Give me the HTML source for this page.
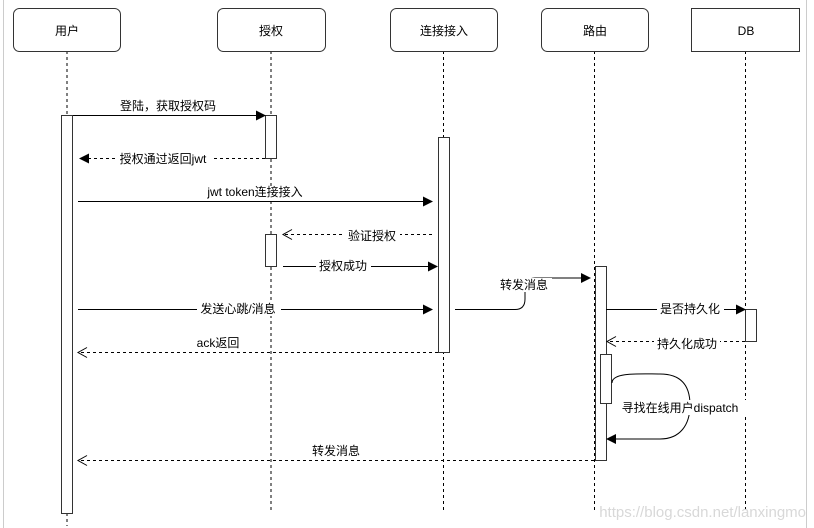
<!DOCTYPE html>
<html><head><meta charset="utf-8"><style>
html,body{margin:0;padding:0;background:#fff;}
svg{display:block;}
text{font-family:"Liberation Sans","Noto Sans CJK SC",sans-serif;font-size:12px;fill:#000;}
</style></head><body>
<svg width="814" height="528" viewBox="0 0 814 528" xmlns="http://www.w3.org/2000/svg">
<defs>
<marker id="f" markerWidth="10" markerHeight="10" refX="9" refY="5" orient="auto" markerUnits="userSpaceOnUse"><path d="M0,0 L10,5 L0,10 Z" fill="#000"/></marker>
<marker id="o" markerWidth="12" markerHeight="12" refX="10" refY="6" orient="auto" markerUnits="userSpaceOnUse"><path d="M1,1 L10,6 L1,11" fill="none" stroke="#000" stroke-width="1"/></marker>
</defs>
<line x1="3.5" y1="0" x2="3.5" y2="528" stroke="#ccc"/>
<line x1="806.5" y1="0" x2="806.5" y2="528" stroke="#ccc"/>
<g fill="none" stroke="#000" stroke-dasharray="3,3">
<line x1="67" y1="51" x2="67" y2="526"/>
<line x1="271" y1="51" x2="271" y2="513"/>
<line x1="443.5" y1="51" x2="443.5" y2="513"/>
<line x1="594.5" y1="51" x2="594.5" y2="513"/>
<line x1="745.5" y1="51" x2="745.5" y2="513"/>
</g>
<g fill="#fff" stroke="#333">
<rect x="13.5" y="8.5" width="107" height="43" rx="6"/>
<rect x="217.5" y="8.5" width="108" height="43" rx="6"/>
<rect x="390.5" y="8.5" width="107" height="43" rx="6"/>
<rect x="541.5" y="8.5" width="107" height="43" rx="6"/>
<rect x="691.5" y="8.5" width="108" height="43"/>
</g>
<text x="67" y="35" text-anchor="middle">用户</text>
<text x="271" y="35" text-anchor="middle">授权</text>
<text x="444" y="35" text-anchor="middle">连接接入</text>
<text x="595" y="35" text-anchor="middle">路由</text>
<text x="746" y="35" text-anchor="middle">DB</text>
<g fill="#fff" stroke="#333">
<rect x="61.5" y="115.5" width="11" height="398"/>
<rect x="265.5" y="115.5" width="11" height="43"/>
<rect x="265.5" y="234.5" width="11" height="32"/>
<rect x="438.5" y="137.5" width="11" height="215"/>
<rect x="595.5" y="266.5" width="11" height="194"/>
<rect x="600.5" y="354.5" width="11" height="49"/>
<rect x="745.5" y="309.5" width="11" height="32"/>
</g>
<g fill="none" stroke="#000">
<line x1="73" y1="115.5" x2="265" y2="115.5" marker-end="url(#f)"/>
<line x1="265" y1="158.5" x2="80" y2="158.5" stroke-dasharray="3,3" marker-end="url(#f)"/>
<line x1="78" y1="201.5" x2="432" y2="201.5" marker-end="url(#f)"/>
<line x1="432" y1="234.5" x2="283" y2="234.5" stroke-dasharray="3,3" marker-end="url(#o)"/>
<line x1="283" y1="266.5" x2="437" y2="266.5" marker-end="url(#f)"/>
<line x1="78" y1="309.5" x2="432" y2="309.5" marker-end="url(#f)"/>
<path d="M455,309.5 L515,309.5 Q525,309.5 525,299 L525,290 Q525,278 535,278 L590,278" marker-end="url(#f)"/>
<line x1="606" y1="309.5" x2="745" y2="309.5" marker-end="url(#f)"/>
<line x1="745" y1="341.5" x2="607" y2="341.5" stroke-dasharray="3,3" marker-end="url(#o)"/>
<line x1="438" y1="352.5" x2="78" y2="352.5" stroke-dasharray="3,3" marker-end="url(#o)"/>
<path d="M612,383 C612,372 640,374 660,374 C685,374 690,390 690,405 C690,425 680,439 660,439 L607,439" marker-end="url(#f)"/>
<line x1="594" y1="460.5" x2="78" y2="460.5" stroke-dasharray="3,3" marker-end="url(#o)"/>
</g>
<g stroke="none" fill="#fff">
<rect x="115" y="152" width="96" height="13"/>
<rect x="202" y="186" width="104" height="13"/>
<rect x="344" y="228" width="56" height="14"/>
<rect x="316" y="259" width="55" height="14"/>
<rect x="197" y="302" width="84" height="14"/>
<rect x="498" y="278" width="54" height="14"/>
<rect x="657" y="302" width="67" height="14"/>
<rect x="654" y="337" width="66" height="14"/>
<rect x="614" y="400" width="132" height="15"/>
</g>
<text x="168" y="110" text-anchor="middle">登陆，获取授权码</text>
<text x="163" y="163" text-anchor="middle">授权通过返回jwt</text>
<text x="255" y="196" text-anchor="middle">jwt token连接接入</text>
<text x="372" y="240" text-anchor="middle">验证授权</text>
<text x="343" y="270" text-anchor="middle">授权成功</text>
<text x="238" y="313" text-anchor="middle">发送心跳/消息</text>
<text x="524" y="289" text-anchor="middle">转发消息</text>
<text x="690" y="313" text-anchor="middle">是否持久化</text>
<text x="687" y="348" text-anchor="middle">持久化成功</text>
<text x="218" y="347" text-anchor="middle">ack返回</text>
<text x="680" y="412" text-anchor="middle">寻找在线用户dispatch</text>
<text x="336" y="455" text-anchor="middle">转发消息</text>
<text x="806" y="517" text-anchor="end" style="font-size:15px;fill:#d8d8d8">https://blog.csdn.net/lanxingmo</text>
</svg>
</body></html>
